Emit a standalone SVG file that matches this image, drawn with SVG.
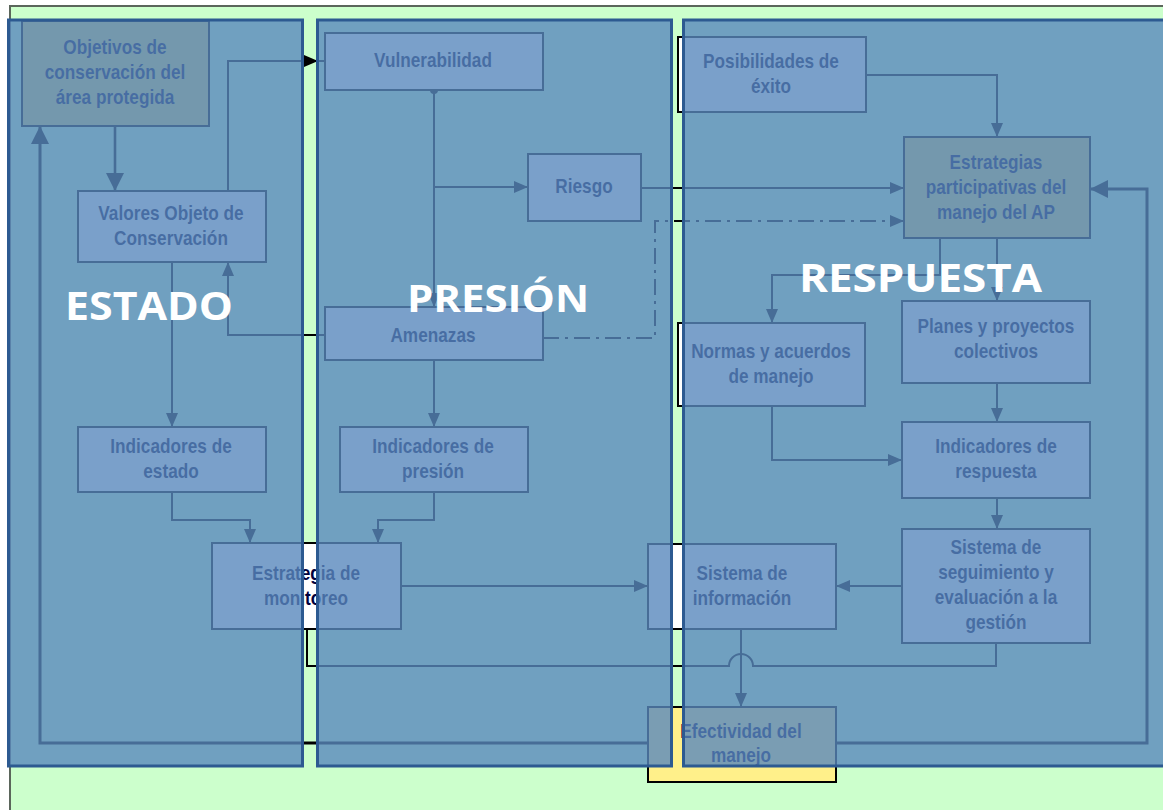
<svg xmlns="http://www.w3.org/2000/svg" width="1163" height="810" viewBox="0 0 1163 810">
<defs>
<style>
.bg{fill:#ccffcc;stroke:#5b665b;stroke-width:2}
.n{fill:#ffffff;stroke:#000;stroke-width:2}
.k{fill:#e0d870;stroke:#000;stroke-width:2}
.y{fill:#fff08a;stroke:#000;stroke-width:2}
.t{font-family:"Liberation Sans",Arial,sans-serif;font-weight:bold;font-size:21px;text-anchor:middle;fill:#00003c}
.c{fill:none;stroke:#000;stroke-width:2;marker-end:url(#a)}
.cb{fill:none;stroke:#000;stroke-width:2.6;marker-end:url(#A)}
.cn{fill:none;stroke:#000;stroke-width:2}
.dd{fill:none;stroke:#000;stroke-width:2;stroke-dasharray:16 6 3 6;marker-end:url(#a)}
.p{fill:#5988bd;fill-opacity:.8;stroke:#2d5a91;stroke-width:3}
.L{font-family:"Open Sans","Liberation Sans",sans-serif;font-weight:bold;font-size:40px;fill:#fff}
</style>
<marker id="a" markerUnits="userSpaceOnUse" markerWidth="14" markerHeight="12" refX="14" refY="6" orient="auto"><path d="M0,0 L14,6 L0,12 z" fill="#000"/></marker>
<marker id="A" markerUnits="userSpaceOnUse" markerWidth="18" markerHeight="18" refX="18" refY="9" orient="auto"><path d="M0,0 L18,9 L0,18 z" fill="#000"/></marker>
</defs>
<rect x="0" y="0" width="1163" height="810" fill="#fff"/>
<rect class="bg" x="10" y="6" width="1162" height="812"/>
<g id="connectors">
<path class="cb" d="M115 126 V191"/>
<path class="cb" style="stroke-width:3" d="M648 743 H40 V126"/>
<path class="cb" style="stroke-width:3" d="M836 743 H1147 V189 H1090"/>
<path class="c" d="M228 191 V61 H318"/>
<path class="cn" d="M318 61 H325"/>
<circle cx="434" cy="90" r="4" fill="#000"/>
<path class="c" d="M434 90 V307"/>
<path class="c" d="M434 187 H528"/>
<path class="c" d="M641 188 H904"/>
<path class="dd" d="M543 338 H655 V221 H904"/>
<path class="c" d="M325 335 H228 V262"/>
<path class="c" d="M172 262 V427"/>
<path class="c" d="M434 360 V427"/>
<path class="c" d="M172 492 V520 H250 V543"/>
<path class="c" d="M434 492 V520 H378 V543"/>
<path class="c" d="M401 586 H648"/>
<path class="c" d="M902 586 H836"/>
<path class="c" d="M741 629 V707"/>
<path class="cn" d="M996 643 V666 H753 A12 12 0 0 0 729 666 H307 V629"/>
<path class="c" d="M866 75 H997 V137"/>
<path class="c" d="M940 238 V275 H772 V323"/>
<path class="c" d="M997 238 V301"/>
<path class="c" d="M997 383 V422"/>
<path class="c" d="M772 406 V460 H902"/>
<path class="c" d="M997 498 V529"/>
</g>
<g id="objetivos"><rect class="k" x="22" y="21" width="187" height="105"/><text class="t" transform="translate(115 0) scale(.82 1)"><tspan x="0" y="54">Objetivos de</tspan><tspan x="0" y="79">conservación del</tspan><tspan x="0" y="104">área protegida</tspan></text></g>
<g id="valores"><rect class="n" x="78" y="191" width="188" height="71"/><text class="t" transform="translate(171 0) scale(.82 1)"><tspan x="0" y="220">Valores Objeto de</tspan><tspan x="0" y="245">Conservación</tspan></text></g>
<g id="vulnerabilidad"><rect class="n" x="325" y="33" width="218" height="57"/><text class="t" transform="translate(433 0) scale(.82 1)"><tspan x="0" y="67">Vulnerabilidad</tspan></text></g>
<g id="riesgo"><rect class="n" x="528" y="154" width="113" height="67"/><text class="t" transform="translate(584 0) scale(.82 1)"><tspan x="0" y="193">Riesgo</tspan></text></g>
<g id="posibilidades"><rect class="n" x="678" y="37" width="188" height="75"/><text class="t" transform="translate(771 0) scale(.82 1)"><tspan x="0" y="68">Posibilidades de</tspan><tspan x="0" y="93">éxito</tspan></text></g>
<g id="estrategias"><rect class="k" x="904" y="137" width="186" height="101"/><text class="t" transform="translate(996 0) scale(.82 1)"><tspan x="0" y="169">Estrategias</tspan><tspan x="0" y="194">participativas del</tspan><tspan x="0" y="219">manejo del AP</tspan></text></g>
<g id="amenazas"><rect class="n" x="325" y="307" width="218" height="53"/><text class="t" transform="translate(433 0) scale(.82 1)"><tspan x="0" y="342">Amenazas</tspan></text></g>
<g id="ind-presion"><rect class="n" x="340" y="427" width="188" height="65"/><text class="t" transform="translate(433 0) scale(.82 1)"><tspan x="0" y="453">Indicadores de</tspan><tspan x="0" y="478">presión</tspan></text></g>
<g id="ind-estado"><rect class="n" x="78" y="427" width="188" height="65"/><text class="t" transform="translate(171 0) scale(.82 1)"><tspan x="0" y="453">Indicadores de</tspan><tspan x="0" y="478">estado</tspan></text></g>
<g id="normas"><rect class="n" x="678" y="323" width="187" height="83"/><text class="t" transform="translate(771 0) scale(.82 1)"><tspan x="0" y="358">Normas y acuerdos</tspan><tspan x="0" y="383">de manejo</tspan></text></g>
<g id="planes"><rect class="n" x="902" y="301" width="188" height="82"/><text class="t" transform="translate(996 0) scale(.82 1)"><tspan x="0" y="333">Planes y proyectos</tspan><tspan x="0" y="358">colectivos</tspan></text></g>
<g id="ind-respuesta"><rect class="n" x="902" y="422" width="188" height="76"/><text class="t" transform="translate(996 0) scale(.82 1)"><tspan x="0" y="453">Indicadores de</tspan><tspan x="0" y="478">respuesta</tspan></text></g>
<g id="seguimiento"><rect class="n" x="902" y="529" width="188" height="114"/><text class="t" transform="translate(996 0) scale(.82 1)"><tspan x="0" y="554">Sistema de</tspan><tspan x="0" y="579">seguimiento y</tspan><tspan x="0" y="604">evaluación a la</tspan><tspan x="0" y="629">gestión</tspan></text></g>
<g id="monitoreo"><rect class="n" x="212" y="543" width="189" height="86"/><text class="t" transform="translate(306 0) scale(.82 1)"><tspan x="0" y="580">Estrategia de</tspan><tspan x="0" y="605">monitoreo</tspan></text></g>
<g id="informacion"><rect class="n" x="648" y="544" width="188" height="85"/><text class="t" transform="translate(742 0) scale(.82 1)"><tspan x="0" y="580">Sistema de</tspan><tspan x="0" y="605">información</tspan></text></g>
<g id="efectividad"><rect class="y" x="648" y="707" width="188" height="75"/><text class="t" transform="translate(741 0) scale(.82 1)"><tspan x="0" y="738">Efectividad del</tspan><tspan x="0" y="762">manejo</tspan></text></g>
<g id="panels">
<rect class="p" x="8.5" y="20" width="294" height="746"/>
<rect class="p" x="317.5" y="20" width="354" height="746"/>
<rect class="p" x="683.5" y="20" width="490" height="746"/>
</g>
<g id="labels">
<text class="L" x="65" y="320" textLength="168" lengthAdjust="spacingAndGlyphs">ESTADO</text>
<text class="L" style="font-size:38px" x="407" y="312" textLength="182" lengthAdjust="spacingAndGlyphs">PRESIÓN</text>
<text class="L" x="799" y="292" textLength="243" lengthAdjust="spacingAndGlyphs">RESPUESTA</text>
</g>
</svg>
